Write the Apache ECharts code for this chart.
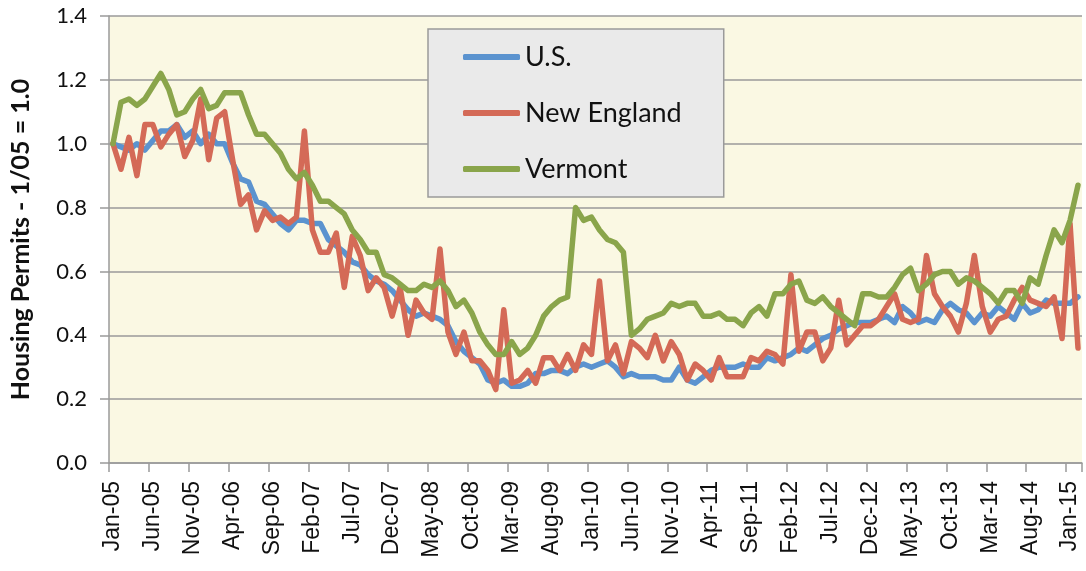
<!DOCTYPE html>
<html>
<head>
<meta charset="utf-8">
<script src="https://cdn.jsdelivr.net/npm/echarts@6/dist/echarts.min.js"></script>
<style>
  html, body { margin: 0; padding: 0; background: #fff; }
  #chart { width: 1086px; height: 571px; }
</style>
</head>
<body>
<div id="chart"></div>
<script>
// month labels Jan-05 .. Feb-15
const MONTHS = ['Jan', 'Feb', 'Mar', 'Apr', 'May', 'Jun', 'Jul', 'Aug', 'Sep', 'Oct', 'Nov', 'Dec'];
const YEARS = ['05', '06', '07', '08', '09', '10', '11', '12', '13', '14', '15'];
const categories = [];
YEARS.forEach(function (y) {
  MONTHS.forEach(function (m) {
    if (categories.length < 122) categories.push(m + '-' + y);
  });
});

const yTicks = [0, 0.2, 0.4, 0.6, 0.8, 1.0, 1.2, 1.4];

const us = [
  1.00, 0.99, 0.98, 1.00, 0.98, 1.01, 1.04, 1.04, 1.06, 1.02,
  1.04, 1.00, 1.03, 1.00, 1.00, 0.94, 0.89, 0.88, 0.82, 0.81,
  0.78, 0.75, 0.73, 0.76, 0.76, 0.75, 0.75, 0.70, 0.68, 0.66,
  0.63, 0.62, 0.59, 0.57, 0.56, 0.54, 0.51, 0.48, 0.46, 0.47,
  0.46, 0.45, 0.43, 0.38, 0.35, 0.33, 0.31, 0.26, 0.25, 0.26,
  0.24, 0.24, 0.25, 0.28, 0.28, 0.29, 0.29, 0.28, 0.30, 0.31,
  0.30, 0.31, 0.32, 0.30, 0.27, 0.28, 0.27, 0.27, 0.27, 0.26,
  0.26, 0.30, 0.26, 0.25, 0.27, 0.29, 0.30, 0.30, 0.30, 0.31,
  0.30, 0.30, 0.33, 0.32, 0.33, 0.34, 0.36, 0.35, 0.37, 0.39,
  0.40, 0.42, 0.43, 0.44, 0.44, 0.44, 0.45, 0.46, 0.44, 0.49,
  0.47, 0.44, 0.45, 0.44, 0.48, 0.50, 0.48, 0.47, 0.44, 0.47,
  0.46, 0.49, 0.47, 0.45, 0.50, 0.47, 0.48, 0.51, 0.50, 0.50,
  0.50, 0.52
];

const newEngland = [
  1.00, 0.92, 1.02, 0.90, 1.06, 1.06, 0.99, 1.03, 1.06, 0.96,
  1.01, 1.14, 0.95, 1.08, 1.10, 0.95, 0.81, 0.84, 0.73, 0.79,
  0.76, 0.77, 0.75, 0.77, 1.04, 0.73, 0.66, 0.66, 0.72, 0.55,
  0.71, 0.65, 0.54, 0.58, 0.55, 0.46, 0.55, 0.40, 0.51, 0.47,
  0.45, 0.67, 0.41, 0.34, 0.41, 0.32, 0.32, 0.29, 0.23, 0.48,
  0.25, 0.26, 0.29, 0.25, 0.33, 0.33, 0.29, 0.34, 0.29, 0.37,
  0.34, 0.57, 0.32, 0.37, 0.28, 0.38, 0.36, 0.33, 0.40, 0.32,
  0.38, 0.34, 0.26, 0.31, 0.29, 0.26, 0.33, 0.27, 0.27, 0.27,
  0.33, 0.32, 0.35, 0.34, 0.31, 0.59, 0.35, 0.41, 0.41, 0.32,
  0.36, 0.51, 0.37, 0.40, 0.43, 0.43, 0.45, 0.49, 0.53, 0.45,
  0.44, 0.45, 0.65, 0.53, 0.49, 0.46, 0.41, 0.50, 0.65, 0.49,
  0.41, 0.45, 0.46, 0.51, 0.55, 0.51, 0.50, 0.49, 0.52, 0.39,
  0.75, 0.36
];

const vermont = [
  1.00, 1.13, 1.14, 1.12, 1.14, 1.18, 1.22, 1.17, 1.09, 1.10,
  1.14, 1.17, 1.11, 1.12, 1.16, 1.16, 1.16, 1.09, 1.03, 1.03,
  1.00, 0.97, 0.92, 0.89, 0.91, 0.87, 0.82, 0.82, 0.80, 0.78,
  0.73, 0.70, 0.66, 0.66, 0.59, 0.58, 0.56, 0.54, 0.54, 0.56,
  0.55, 0.57, 0.54, 0.49, 0.51, 0.47, 0.41, 0.37, 0.34, 0.34,
  0.38, 0.34, 0.36, 0.40, 0.46, 0.49, 0.51, 0.52, 0.80, 0.76,
  0.77, 0.73, 0.70, 0.69, 0.66, 0.40, 0.42, 0.45, 0.46, 0.47,
  0.50, 0.49, 0.50, 0.50, 0.46, 0.46, 0.47, 0.45, 0.45, 0.43,
  0.47, 0.49, 0.46, 0.53, 0.53, 0.56, 0.57, 0.51, 0.50, 0.52,
  0.49, 0.47, 0.45, 0.43, 0.53, 0.53, 0.52, 0.52, 0.55, 0.59,
  0.61, 0.54, 0.56, 0.59, 0.60, 0.60, 0.56, 0.58, 0.57, 0.55,
  0.53, 0.50, 0.54, 0.54, 0.50, 0.58, 0.56, 0.65, 0.73, 0.69,
  0.76, 0.87
];

const chart = echarts.init(document.getElementById('chart'));

function lineSeries(name, data, color) {
  return {
    name: name,
    type: 'line',
    data: data,
    showSymbol: false,
    symbol: 'none',
    animation: false,
    lineStyle: { color: color, width: 5.5, cap: 'round', join: 'round' },
    itemStyle: { color: color }
  };
}

chart.setOption({
  animation: false,
  grid: {
    left: 108, right: 4, top: 16, bottom: 108,
    show: true, backgroundColor: '#FAF8E3', borderWidth: 0
  },
  legend: {
    orient: 'vertical',
    left: 428, top: 29,
    padding: [13, 42, 13, 35],
    itemGap: 26,
    itemWidth: 57, itemHeight: 6,
    icon: 'roundRect',
    backgroundColor: '#EAEAEA',
    borderColor: '#9A9A9A',
    borderWidth: 1.5,
    borderRadius: 0,
    textStyle: { fontFamily: 'Lato', fontSize: 27, color: '#111', lineHeight: 30 },
    data: ['U.S.', 'New England', 'Vermont']
  },
  xAxis: {
    type: 'category',
    data: categories,
    boundaryGap: true,
    axisLine: { lineStyle: { color: '#9A9A9A', width: 1.5 } },
    axisTick: { show: true, interval: 4, length: 9, lineStyle: { color: '#9A9A9A', width: 1.5 } },
    axisLabel: {
      interval: 4, rotate: 90, margin: 18,
      fontFamily: 'Liberation Sans', fontSize: 23, color: '#111'
    },
    splitLine: { show: false }
  },
  yAxis: {
    type: 'value',
    min: yTicks[0], max: yTicks[yTicks.length - 1], interval: 0.2,
    name: 'Housing Permits - 1/05 = 1.0',
    nameLocation: 'middle',
    nameRotate: 90,
    nameGap: 76,
    nameTextStyle: { fontFamily: 'Lato', fontWeight: 'bold', fontSize: 25, color: '#111' },
    axisLine: { show: true, lineStyle: { color: '#9A9A9A', width: 1.5 } },
    axisTick: { show: true, length: 9, lineStyle: { color: '#9A9A9A', width: 1.5 } },
    axisLabel: {
      margin: 22,
      fontFamily: 'Lato', fontSize: 22, color: '#111',
      formatter: function (v) { return v.toFixed(1); }
    },
    splitLine: { lineStyle: { color: '#9A9A9A', width: 1.5 } }
  },
  series: [
    lineSeries('U.S.', us, '#5B93CF'),
    lineSeries('New England', newEngland, '#D46A57'),
    lineSeries('Vermont', vermont, '#8AA54B')
  ]
});
</script>
</body>
</html>
